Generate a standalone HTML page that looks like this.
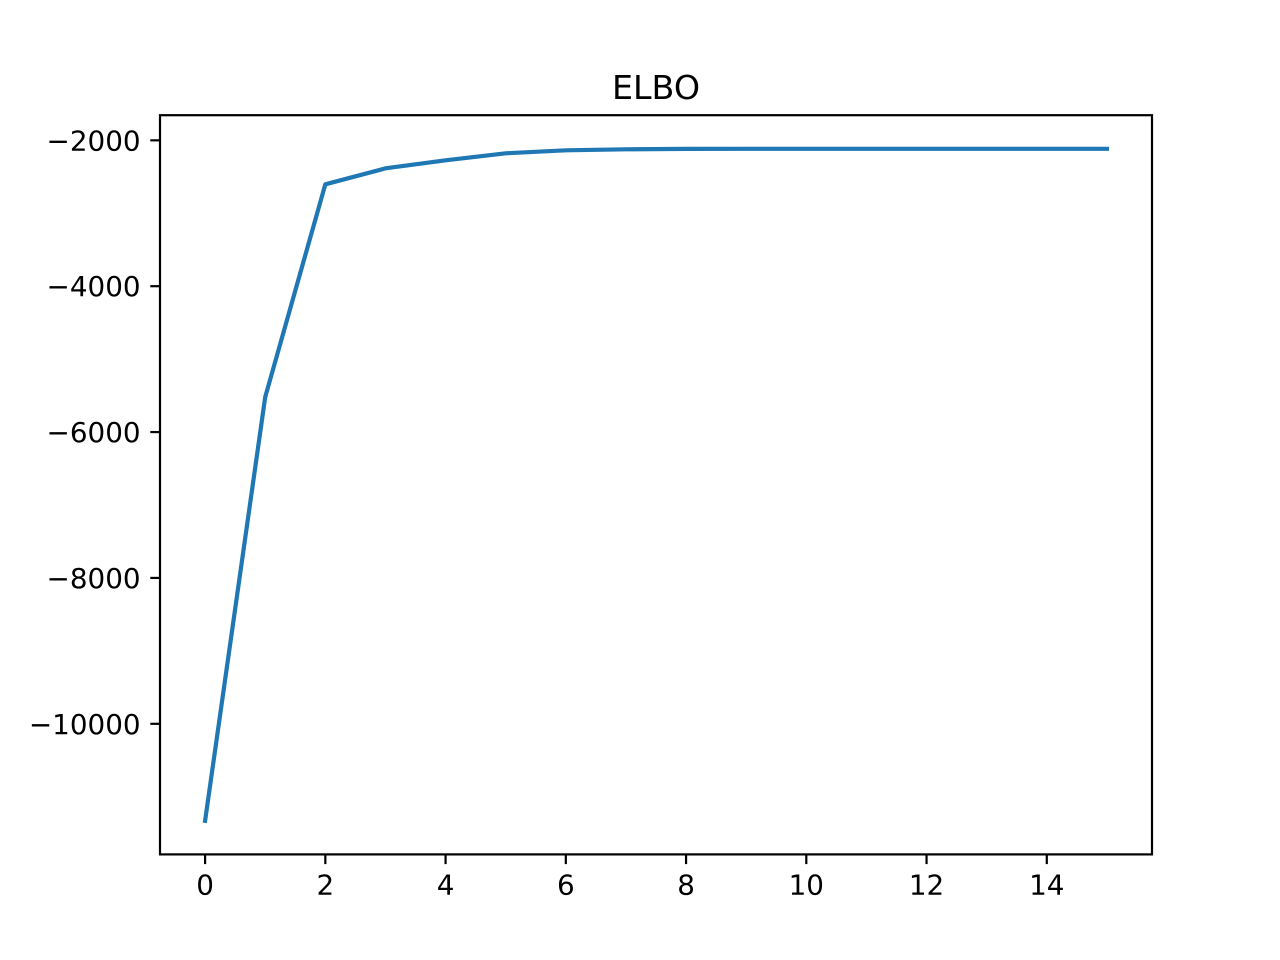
<!DOCTYPE html>
<html><head><meta charset="utf-8"><style>body{margin:0;background:#fff}svg{display:block}text{font-family:"DejaVu Sans","Liberation Sans",sans-serif;fill:#000}</style></head>
<body>
<svg id="chart" width="1280" height="960" xmlns="http://www.w3.org/2000/svg"></svg>
<script>
const iterations=[0,1,2,3,4,5,6,7,8,9,10,11,12,13,14,15];
const elboValues=[-11330,-5520,-2603,-2384,-2274,-2178,-2137,-2123,-2117,-2116,-2116,-2116,-2116,-2116,-2116,-2116];
const xTicks=[0,2,4,6,8,10,12,14];
const yTicks=[-10000,-8000,-6000,-4000,-2000];
const NS="http://www.w3.org/2000/svg";
const svg=document.getElementById('chart');
const L=160,R=1152,T=115.2,B=854.4;
const xmin=Math.min(...iterations),xmax=Math.max(...iterations),xm=(xmax-xmin)*0.05;
const ymin=Math.min(...elboValues),ymax=Math.max(...elboValues),ym=(ymax-ymin)*0.05;
const x=v=>L+(v-(xmin-xm))/((xmax+xm)-(xmin-xm))*(R-L);
const y=v=>B-(v-(ymin-ym))/((ymax+ym)-(ymin-ym))*(B-T);
function el(t,a){const e=document.createElementNS(NS,t);for(const k in a)e.setAttribute(k,a[k]);svg.appendChild(e);return e;}
let d=iterations.map((v,i)=>(i?'L':'M')+x(v).toFixed(2)+','+y(elboValues[i]).toFixed(2)).join('');
const line=el('path',{d:d,fill:'none',stroke:'#1f77b4','stroke-width':4.2,'stroke-linejoin':'round','stroke-linecap':'square'});


const frame=el('rect',{x:L,y:T,width:R-L,height:B-T,fill:'none',stroke:'#000','stroke-width':2.2});


xTicks.forEach(v=>{
  el('line',{x1:x(v),x2:x(v),y1:B,y2:B+9.7,stroke:'#000','stroke-width':2.2});
  const t=el('text',{x:x(v),y:B+40,'text-anchor':'middle','font-size':27.8});
  t.textContent=String(v);
  
  
});
yTicks.forEach(v=>{
  el('line',{x1:L-9.7,x2:L,y1:y(v),y2:y(v),stroke:'#000','stroke-width':2.2});
  const t=el('text',{x:L-19.4,y:y(v)+10,'text-anchor':'end','font-size':27.8});
  t.textContent=String(v).replace('-','\u2212');
  
  
});
const title=el('text',{x:(L+R)/2,y:99,'text-anchor':'middle','font-size':33.3});
title.textContent='ELBO';


</script>
</body></html>
